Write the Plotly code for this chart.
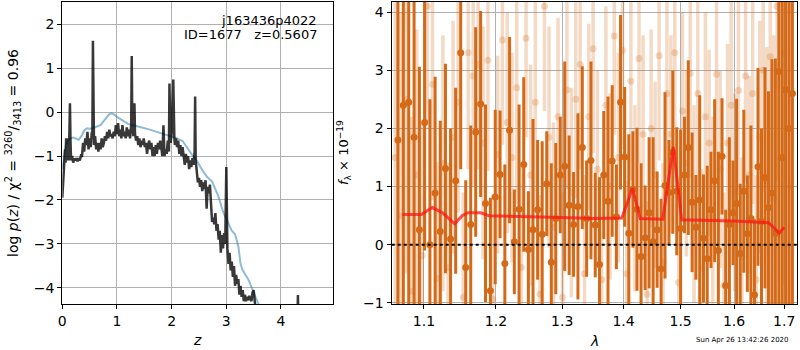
import numpy as np
import plotly.graph_objects as go

# ---------------- left panel: p(z) ----------------
z_pz = [0.00,0.02,0.04,0.05,0.06,0.07,0.08,0.09,0.10,0.11,0.12,0.13,0.14,0.15,0.16,0.18,0.20,0.22,0.24,0.26,
        0.28,0.30,0.32,0.34,0.36,0.38,0.40,0.42,0.44,0.46,0.48,0.50,0.52,0.54,0.55,0.56,0.57,0.58,0.60,0.62,
        0.64,0.66,0.68,0.70,0.72,0.74,0.76,0.78,0.80,0.82,0.84,0.86,0.88,0.90,0.92,0.94,0.96,0.98,1.00,1.02,
        1.04,1.06,1.08,1.10,1.12,1.14,1.16,1.18,1.20,1.22,1.24,1.26,1.27,1.28,1.30,1.32,1.33,1.35,1.37,1.39,
        1.41,1.43,1.45,1.47,1.49,1.51,1.53,1.55,1.57,1.59,1.61,1.63,1.65,1.67,1.69,1.71,1.73,1.75,1.77,1.79,
        1.81,1.83,1.85,1.87,1.89,1.91,1.93,1.95,1.96,1.98,2.00,2.03,2.05,2.06,2.08,2.10,2.12,2.14,2.16,2.18,
        2.20,2.22,2.24,2.26,2.28,2.30,2.32,2.34,2.36,2.38,2.40,2.42,2.43,2.44,2.46,2.48,2.50,2.52,2.54,2.56,
        2.58,2.60,2.62,2.64,2.66,2.68,2.70,2.72,2.74,2.76,2.78,2.80,2.82,2.84,2.86,2.88,2.90,2.92,2.94,2.96,
        2.98,3.00,3.02,3.04,3.06,3.08,3.10,3.12,3.14,3.16,3.18,3.20,3.22,3.24,3.26,3.28,3.30,3.32,3.34,3.36,
        3.38,3.40,3.42,3.44,3.46,3.48,3.50,3.52,3.54,3.56,3.60,4.29,4.31,4.33]
logp = [-1.95,-1.6,-1.15,-0.85,-1.15,-0.6,-1.1,-0.65,-1.05,-0.6,-1.1,-0.7,0.2,-0.65,-1.1,-1.0,-1.15,-1.05,-1.1,-1.05,
        -1.12,-1.05,-1.1,-1.0,-1.02,-0.7,-0.9,-0.6,-0.75,-0.45,-0.85,-0.6,-0.8,-0.45,-0.5,1.62,-0.35,-0.75,-0.55,-0.85,
        -0.7,-0.9,-0.7,-0.85,-0.6,-0.8,-0.7,-0.55,-0.65,-0.45,-0.6,-0.4,-0.55,-0.5,-0.6,-0.45,-0.55,-0.3,-0.5,-0.25,
        -0.55,-0.4,-0.6,-0.3,-0.55,-0.45,-0.6,-0.35,-0.55,-0.4,-0.6,-0.3,1.27,-0.3,-0.55,0.2,-0.5,-0.65,-0.55,-0.75,
        -0.6,-0.8,-0.65,-0.75,-0.6,-0.8,-0.7,-0.95,-0.75,-0.65,-0.85,-0.7,-1.0,-0.8,-1.0,-0.75,-0.95,-0.7,-0.85,-0.65,
        -0.8,-1.0,-0.3,-1.0,-0.85,-0.95,-0.65,-0.9,0.65,-0.7,-0.5,0.74,-0.6,-0.75,-0.6,-0.8,-0.65,-0.95,-0.75,-1.0,
        -0.8,-1.05,-1.2,-0.95,-1.15,-1.0,-1.3,-1.1,-1.25,-1.05,-1.2,-0.9,0.35,-1.1,-1.4,-1.6,-1.5,-1.7,-1.55,-1.8,
        -1.6,-1.75,-1.55,-2.2,-1.7,-1.85,-1.65,-2.05,-2.5,-2.4,-2.55,-2.3,-2.7,-2.55,-2.9,-2.7,-3.2,-2.8,-3.1,-2.75,
        -3.0,-1.25,-3.1,-3.45,-3.2,-3.6,-3.4,-3.75,-3.5,-3.95,-3.7,-3.9,-3.8,-4.15,-3.95,-4.2,-4.05,-4.3,-4.15,-4.3,
        -4.2,-4.28,-4.18,-4.25,-4.3,-4.1,-4.05,-4.3,-4.5,-4.8,-5.2,-5.5,-4.16,-5.5]

z_model = [0.0,0.03,0.06,0.10,0.15,0.20,0.25,0.30,0.35,0.40,0.45,0.50,0.55,0.60,0.65,0.70,0.75,0.80,0.85,0.90,
           0.95,1.00,1.05,1.10,1.15,1.20,1.30,1.40,1.50,1.60,1.70,1.80,1.90,2.00,2.10,2.20,2.30,2.40,2.46,2.55,
           2.65,2.74,2.85,2.95,3.01,3.10,3.16,3.22,3.26,3.30,3.40,3.46,3.52,3.60,3.65]
logp_model = [-1.3,-1.0,-0.78,-0.65,-0.6,-0.58,-0.6,-0.63,-0.55,-0.42,-0.37,-0.38,-0.37,-0.35,-0.33,-0.3,-0.22,-0.14,-0.06,-0.03,
              -0.06,-0.11,-0.15,-0.2,-0.24,-0.27,-0.3,-0.33,-0.37,-0.4,-0.44,-0.48,-0.52,-0.56,-0.6,-0.66,-0.85,-1.02,-1.1,-1.3,
              -1.48,-1.58,-1.9,-2.3,-2.45,-2.7,-2.78,-3.05,-3.45,-3.6,-3.8,-3.97,-4.15,-4.4,-4.6]

# ---------------- right panel: spectrum ----------------
lam_dark = [1.066,1.073,1.080,1.087,1.094,1.101,1.108,1.115,1.122,1.129,1.136,1.143,1.150,1.157,1.164,1.171,1.178,1.185,1.192,1.199,
            1.206,1.213,1.220,1.227,1.234,1.241,1.248,1.255,1.262,1.269,1.276,1.283,1.290,1.297,1.304,1.311,1.318,1.325,1.332,1.339,
            1.346,1.353,1.360,1.367,1.374,1.381,1.388,1.395,1.402,1.409,1.416,1.423,1.430,1.437,1.444,1.451,1.458,1.465,1.472,1.479,
            1.486,1.493,1.500,1.507,1.514,1.521,1.528,1.535,1.542,1.549,1.556,1.563,1.570,1.577,1.584,1.591,1.598,1.605,1.612,1.619,
            1.626,1.633,1.640,1.647,1.654,1.661,1.668,1.675,1.682,1.689,1.696,1.703,1.710,1.717]
flux_dark = [1.8,2.4,2.45,1.85,0.26,2.1,0.0,0.89,0.23,1.31,0.1,1.1,3.3,-0.39,0.35,1.94,2.42,0.71,-0.79,0.82,
             1.21,-0.32,1.97,0.05,0.61,1.38,-0.08,0.26,0.6,0.18,1.05,-0.3,0.45,1.2,1.35,0.68,0.35,0.66,1.67,0.45,
             1.45,0.34,-0.34,1.2,0.75,1.44,0.48,2.45,1.51,0.2,0.95,0.61,-0.2,0.12,0.55,0.05,0.26,-0.41,1.02,0.9,
             1.59,0.92,0.28,1.2,1.67,0.73,0.3,0.77,0.11,-0.24,0.6,1.1,-0.1,1.52,-0.7,0.35,0.55,0.71,-0.15,0.92,
             0.19,0.45,-0.86,1.34,0.4,1.15,0.64,0.89,0.2,2.98,1.5,2.66,2.0,2.6]
err_dark = [4.5,4.0,3.5,3.0,2.8,2.2,2.5,2.0,1.9,1.8,1.9,1.6,2.0,1.5,1.7,1.8,1.6,1.7,1.6,1.5,
            1.1,1.7,1.6,0.9,1.8,1.5,1.0,1.9,1.2,1.6,0.9,1.7,1.3,1.0,1.8,1.2,0.9,1.6,1.4,1.0,
            1.7,0.9,1.5,1.1,1.8,1.3,0.9,1.5,1.2,1.7,1.0,1.4,1.6,0.9,1.3,1.8,1.0,1.2,1.6,0.9,
            1.4,1.1,1.7,1.0,1.5,1.2,0.9,1.8,1.1,1.6,1.0,1.4,1.7,1.0,1.3,1.5,0.9,1.8,1.2,1.4,
            1.0,1.6,1.3,1.7,1.6,1.9,2.0,2.3,3.0,4.5,5.0,5.0,5.0,5.0]

lam_light = [1.0625,1.0695,1.0765,1.0835,1.0905,1.0975,1.1045,1.1115,1.1185,1.1255,1.1325,1.1395,1.1465,1.1535,1.1605,1.1675,
             1.1745,1.1815,1.1885,1.1955,1.2025,1.2095,1.2165,1.2235,1.2305,1.2375,1.2445,1.2515,1.2585,1.2655,1.2725,1.2795,
             1.2865,1.2935,1.3005,1.3075,1.3145,1.3215,1.3285,1.3355,1.3425,1.3495,1.3565,1.3635,1.3705,1.3775,1.3845,1.3915,
             1.3985,1.4055,1.4125,1.4195,1.4265,1.4335,1.4405,1.4475,1.4545,1.4615,1.4685,1.4755,1.4825,1.4895,1.4965,1.5035,
             1.5105,1.5175,1.5245,1.5315,1.5385,1.5455,1.5525,1.5595,1.5665,1.5735,1.5805,1.5875,1.5945,1.6015,1.6085,1.6155,
             1.6225,1.6295,1.6365,1.6435,1.6505,1.6575,1.6645,1.6715,1.6785,1.6855,1.6925,1.6995,1.7065,1.7135]
flux_light = [1.5,0.5,2.5,-0.8,1.2,-0.19,4.1,2.76,-0.58,1.4,-0.39,1.85,2.45,-0.9,3.3,2.9,
              3.1,1.75,3.17,-0.93,1.55,3.52,2.1,1.5,2.7,-0.39,3.55,1.2,2.45,-0.85,4.1,1.85,
              0.3,2.2,-0.9,2.66,0.9,2.5,3.1,-0.5,2.2,3.37,1.3,-0.6,2.4,1.0,3.59,1.5,
              3.34,-0.5,2.81,0.8,3.2,1.9,-0.85,2.0,1.2,3.25,-0.3,2.6,1.9,3.3,-0.65,2.3,
              1.4,2.95,0.7,2.6,-0.4,2.2,1.75,0.5,2.93,1.3,-0.7,1.75,2.4,0.9,2.65,-0.2,
              2.9,1.2,2.6,-0.6,1.85,3.0,1.1,3.23,0.8,4.1,1.5,3.3,2.0,1.0]
err_light = [4.0,3.5,3.0,3.0,2.5,2.3,2.0,2.0,2.0,2.2,1.8,2.0,1.9,1.8,2.0,1.9,
             1.8,2.0,1.9,1.8,1.7,1.8,1.9,1.8,2.0,1.8,1.7,1.9,1.8,1.7,1.8,1.9,
             1.8,1.7,1.8,1.7,1.8,1.7,1.8,1.7,1.6,1.8,1.7,1.8,1.7,1.6,1.7,1.8,
             1.7,1.6,1.7,1.6,1.8,1.7,1.6,1.7,1.6,1.8,1.7,1.6,1.7,1.8,1.6,1.7,
             1.6,1.8,1.7,1.6,1.7,1.8,1.6,1.7,1.8,1.7,1.6,1.7,1.8,1.7,1.8,1.7,
             1.8,1.7,1.9,1.8,2.0,2.1,2.3,2.5,2.8,3.0,3.5,4.0,4.5,4.5]

lam_model = [1.0717,1.0967,1.1112,1.125,1.1417,1.152,1.160,1.178,1.19,1.25,1.30,1.35,1.397,1.4153,1.4285,1.468,1.4867,1.5021,
             1.55,1.60,1.668,1.690,1.700]
flux_model = [0.52,0.52,0.64,0.55,0.36,0.50,0.55,0.55,0.50,0.49,0.47,0.45,0.46,0.97,0.45,0.44,1.68,0.43,
              0.42,0.41,0.38,0.20,0.30]

lam_ticks = [1.1, 1.2, 1.3, 1.4, 1.5, 1.6, 1.7]
lam_range = [1.058, 1.7265]
z_range = [0, 4.957]
pz_range = [-4.364, 2.507]
f_range = [-1.018, 4.178]

DARK = 'rgb(212,106,24)'
LIGHT = 'rgba(212,106,24,0.25)'
FONT = 'DejaVu Sans'

fig = go.Figure()

# left panel
fig.add_trace(go.Scatter(x=z_model, y=logp_model, mode='lines',
                         line=dict(color='rgba(31,119,180,0.5)', width=2), xaxis='x', yaxis='y'))
fig.add_trace(go.Scatter(x=z_pz, y=logp, mode='lines',
                         line=dict(color='rgba(0,0,0,0.78)', width=2.5), xaxis='x', yaxis='y'))

# right panel
fig.add_trace(go.Scatter(x=lam_light, y=flux_light, mode='markers',
                         marker=dict(color=LIGHT, size=7),
                         error_y=dict(type='data', array=err_light, thickness=3.5, width=0, color=LIGHT),
                         xaxis='x2', yaxis='y2'))
fig.add_trace(go.Scatter(x=lam_dark, y=flux_dark, mode='markers',
                         marker=dict(color=DARK, size=7),
                         error_y=dict(type='data', array=err_dark, thickness=3, width=0, color=DARK),
                         xaxis='x2', yaxis='y2'))
fig.add_trace(go.Scatter(x=lam_model, y=flux_model, mode='lines',
                         line=dict(color='rgba(255,20,20,0.75)', width=3), xaxis='x2', yaxis='y2'))
fig.add_trace(go.Scatter(x=lam_range, y=[0, 0], mode='lines',
                         line=dict(color='black', width=2, dash='dot'), xaxis='x2', yaxis='y2'))

W, H = 800, 350
def px(x): return x / W
def py(y): return 1 - y / H

axis_common = dict(showline=True, linecolor='black', linewidth=1.3, mirror=True,
                   ticks='outside', ticklen=4, tickcolor='black', tickwidth=1,
                   showgrid=True, gridcolor='#b0b0b0', gridwidth=1, zeroline=False,
                   tickfont=dict(family=FONT, size=14, color='black'), automargin=False)

fig.update_layout(
    width=W, height=H, margin=dict(l=0, r=0, t=0, b=0),
    paper_bgcolor='white', plot_bgcolor='white', showlegend=False,
    font=dict(family=FONT, color='black'),
    xaxis=dict(domain=[px(62.3), px(333.3)], range=z_range, tickvals=[0, 1, 2, 3, 4],
               anchor='y', **axis_common),
    yaxis=dict(domain=[py(304), py(1.7)], range=pz_range, tickvals=[-4, -3, -2, -1, 0, 1, 2],
               anchor='x', **axis_common),
    xaxis2=dict(domain=[px(391.7), px(797)], type='log', range=[np.log10(lam_range[0]), np.log10(lam_range[1])],
                tickvals=lam_ticks, ticktext=[str(t) for t in lam_ticks], anchor='y2',
                layer='above traces', **axis_common),
    yaxis2=dict(domain=[py(304), py(1.7)], range=f_range, tickvals=[-1, 0, 1, 2, 3, 4],
                anchor='x2', layer='above traces', **axis_common),
)

ann = []
ann.append(dict(x=px(319), y=py(20), xref='paper', yref='paper', text='j163436p4022', showarrow=False,
                xanchor='right', yanchor='middle', font=dict(family=FONT, size=13)))
ann.append(dict(x=px(319), y=py(35), xref='paper', yref='paper',
                text='ID=1677\u00a0\u00a0\u00a0z=0.5607', showarrow=False,
                xanchor='right', yanchor='middle', font=dict(family=FONT, size=13)))
ann.append(dict(x=px(197), y=py(340), xref='paper', yref='paper', text='<i>z</i>', showarrow=False,
                xanchor='center', yanchor='middle', font=dict(family=FONT, size=14)))
ann.append(dict(x=px(594), y=py(341), xref='paper', yref='paper', text='<i>λ</i>', showarrow=False,
                xanchor='center', yanchor='middle', font=dict(family=FONT, size=14)))
ann.append(dict(x=px(13), y=py(153), xref='paper', yref='paper',
                text='log <i>p</i>(<i>z</i>) / χ<sup>2</sup> = <sup>3260</sup>/<sub>3413</sub> = 0.96',
                showarrow=False, textangle=-90, xanchor='center', yanchor='middle',
                font=dict(family=FONT, size=14)))
ann.append(dict(x=px(344), y=py(153), xref='paper', yref='paper',
                text='<i>f</i><sub>λ</sub> × 10<sup>−19</sup>',
                showarrow=False, textangle=-90, xanchor='center', yanchor='middle',
                font=dict(family=FONT, size=13)))
ann.append(dict(x=px(742), y=py(340), xref='paper', yref='paper', text='Sun Apr 26 13:42:26 2020',
                showarrow=False, xanchor='center', yanchor='middle', font=dict(family=FONT, size=7)))
fig.update_layout(annotations=ann)

fig.write_html("out.html", config={'displayModeBar': False},
               post_script="document.body.style.margin='0';document.body.style.padding='0';"
                           "document.body.style.overflow='hidden';")
